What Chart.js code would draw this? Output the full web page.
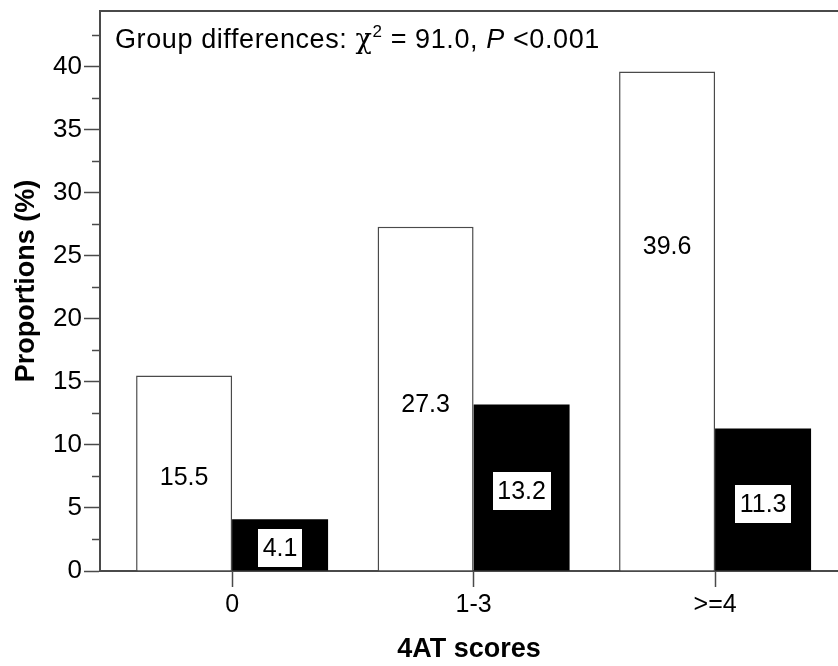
<!DOCTYPE html>
<html>
<head>
<meta charset="utf-8">
<script src="https://cdn.jsdelivr.net/npm/chart.js@4"></script>
<style>
  body { margin: 0; background: #fff; }
  canvas { display: block; }
</style>
</head>
<body>
<canvas id="chart" width="838" height="666"></canvas>
<script>
// 4AT score groups
const categories = ['0', '1-3', '>=4'];
const whiteValues = [15.5, 27.3, 39.6];
const blackValues = [4.1, 13.2, 11.3];
const yTicks = [0, 5, 10, 15, 20, 25, 30, 35, 40];
const yMinorTicks = [2.5, 7.5, 12.5, 17.5, 22.5, 27.5, 32.5, 37.5, 42.5];
const yTitle = 'Proportions (%)';

const FONT = "'Liberation Sans', Arial, sans-serif";
const lineColor = '#4a4a4a';

// frame line on top + minor ticks on the y axis + y title
const framePlugin = {
    id: 'frame',
    afterDraw(chart) {
        const ctx = chart.ctx;
        const area = chart.chartArea;
        const y = chart.scales.y;
        ctx.save();
        ctx.strokeStyle = lineColor;
        ctx.lineWidth = 2;
        ctx.beginPath();
        ctx.moveTo(area.left - 1, area.top);
        ctx.lineTo(area.right, area.top);
        ctx.stroke();
        ctx.lineWidth = 1.5;
        yMinorTicks.forEach(v => {
            const py = Math.round(y.getPixelForValue(v)) + 0.5;
            ctx.beginPath();
            ctx.moveTo(area.left - 8, py);
            ctx.lineTo(area.left, py);
            ctx.stroke();
        });
        // y axis title, a bit above the middle like the original
        ctx.translate(27, 281);
        ctx.rotate(-Math.PI / 2);
        ctx.font = `bold 27px ${FONT}`;
        ctx.fillStyle = '#000';
        ctx.textAlign = 'center';
        ctx.textBaseline = 'middle';
        ctx.fillText(yTitle, 0, 0);
        ctx.restore();
    }
};

// text note inside the plot
const notePlugin = {
    id: 'note',
    afterDraw(chart) {
        const ctx = chart.ctx;
        ctx.save();
        ctx.fillStyle = '#000';
        ctx.textBaseline = 'alphabetic';
        if ('letterSpacing' in ctx) ctx.letterSpacing = '0.6px';
        let x = 115;
        const base = 48;
        const parts = [
            { t: 'Group differences: ', f: `27px ${FONT}` },
            { t: 'χ', f: `27px 'DejaVu Serif', serif` },
            { t: '2', f: `17px ${FONT}`, up: 11 },
            { t: ' = 91.0, ', f: `27px ${FONT}` },
            { t: 'P', f: `italic 27px ${FONT}` },
            { t: ' <0.001', f: `27px ${FONT}` }
        ];
        parts.forEach(p => {
            ctx.font = p.f;
            ctx.fillText(p.t, x, base - (p.up || 0));
            x += ctx.measureText(p.t).width;
        });
        ctx.restore();
    }
};

// value labels inside the bars
const labelPlugin = {
    id: 'barLabels',
    afterDatasetsDraw(chart, args, opts) {
        const ctx = chart.ctx;
        ctx.save();
        ctx.font = `25px ${FONT}`;
        ctx.textAlign = 'center';
        ctx.textBaseline = 'middle';
        chart.data.datasets.forEach((ds, di) => {
            const meta = chart.getDatasetMeta(di);
            meta.data.forEach((bar, i) => {
                const frac = opts.fractions[di][i];
                const cy = bar.base - (bar.base - bar.y) * frac;
                const txt = ds.data[i].y.toFixed(1);
                if (di === 1) {
                    const w = ctx.measureText(txt).width + 9;
                    const h = 38;
                    ctx.fillStyle = '#fff';
                    ctx.fillRect(Math.round(bar.x - w / 2), Math.round(cy - h / 2), Math.round(w), h);
                }
                ctx.fillStyle = '#000';
                ctx.fillText(txt, bar.x, cy + 1);
            });
        });
        ctx.restore();
    }
};

new Chart(document.getElementById('chart'), {
    type: 'bar',
    data: {
        datasets: [{
            data: whiteValues.map((v, i) => ({ x: i, y: v })),
            backgroundColor: '#fff',
            borderColor: lineColor,
            borderWidth: 1.5,
            categoryPercentage: 0.795,
            barPercentage: 1
        }, {
            data: blackValues.map((v, i) => ({ x: i, y: v })),
            backgroundColor: '#000',
            borderColor: '#000',
            borderWidth: 0,
            categoryPercentage: 0.795,
            barPercentage: 1
        }]
    },
    options: {
        responsive: false,
        animation: false,
        layout: { padding: { top: 11, right: 0, left: 0, bottom: 0 } },
        plugins: {
            legend: { display: false },
            tooltip: { enabled: false },
            barLabels: { fractions: [[0.48, 0.485, 0.65], [0.43, 0.48, 0.47]] }
        },
        scales: {
            x: {
                type: 'linear',
                min: -0.547,
                max: 2.509,
                offset: false,
                afterBuildTicks: s => { s.ticks = categories.map((c, i) => ({ value: i })); },
                afterFit: s => { s.height = 95; s.paddingLeft = 0; s.paddingRight = 0; },
                ticks: {
                    callback: v => categories[v],
                    font: { family: FONT, size: 25 },
                    color: '#000',
                    padding: 3,
                    maxRotation: 0
                },
                grid: { offset: false, drawOnChartArea: false, tickLength: 16, color: lineColor, tickWidth: 1.5 },
                border: { display: true, color: lineColor, width: 2 },
                title: {
                    display: true,
                    text: '4AT scores',
                    font: { family: FONT, size: 27, weight: 'bold' },
                    color: '#000',
                    padding: { top: 0, bottom: 0 }
                }
            },
            y: {
                min: 0,
                max: 44.4,
                afterBuildTicks: s => { s.ticks = yTicks.map(v => ({ value: v })); },
                afterFit: s => { s.width = 100; s.paddingTop = 0; s.paddingBottom = 0; },
                ticks: {
                    font: { family: FONT, size: 26 },
                    color: '#000',
                    padding: 2
                },
                grid: { drawOnChartArea: false, tickLength: 16, tickWidth: 1.5, color: lineColor },
                border: { display: true, color: lineColor, width: 2 }
            }
        }
    },
    plugins: [framePlugin, notePlugin, labelPlugin]
});
</script>
</body>
</html>
